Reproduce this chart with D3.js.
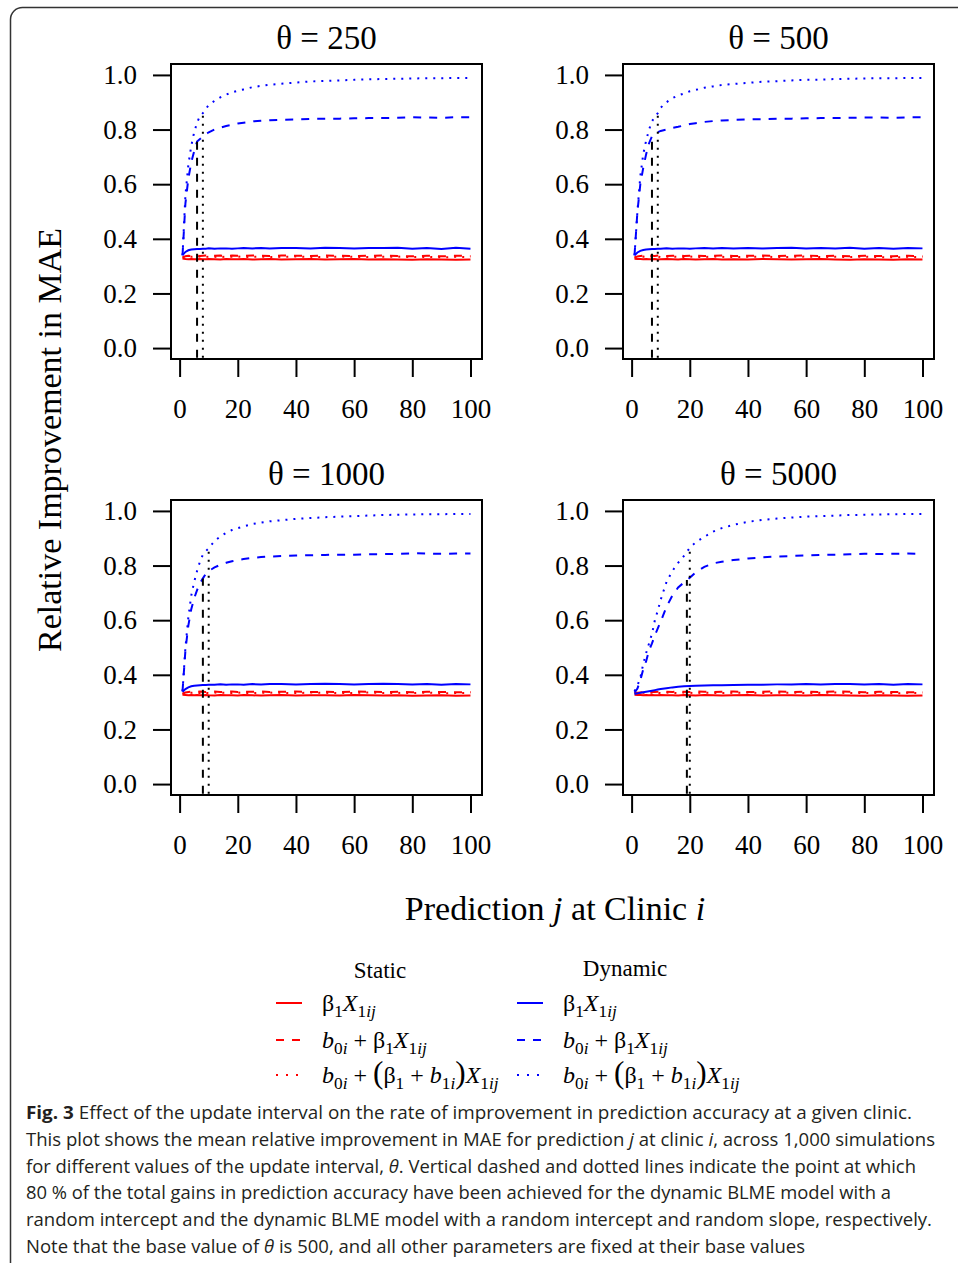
<!DOCTYPE html>
<html>
<head>
<meta charset="utf-8">
<script src="https://cdn.jsdelivr.net/npm/d3@7"></script>
<style>
  body { margin: 0; background: #fff; }
  svg { display: block; }
</style>
</head>
<body>
<svg id="chart" width="958" height="1263"></svg>
<script>
(function () {
  const jValues = [1, 2, 3, 4, 5, 6, 7, 8, 9, 10, 12, 14, 16, 18, 20, 22, 25, 28, 31, 35,
    40, 45, 50, 55, 60, 65, 70, 75, 80, 85, 90, 95, 100];

  const thetas = ['250', '500', '1000', '5000'];
  const xTicks = [0, 20, 40, 60, 80, 100];
  const yTicks = [0, 0.2, 0.4, 0.6, 0.8, 1.0];

  // one row per panel (theta = 250, 500, 1000, 5000)
  const staticFixed = [
    [0.328, 0.326, 0.325, 0.326, 0.325, 0.325, 0.326, 0.325, 0.325, 0.326, 0.325, 0.324, 0.326, 0.325, 0.325, 0.326, 0.324, 0.325, 0.326, 0.324, 0.325, 0.326, 0.324, 0.325, 0.326, 0.324, 0.325, 0.324, 0.323, 0.325, 0.324, 0.323, 0.324],
    [0.327, 0.326, 0.326, 0.325, 0.326, 0.325, 0.325, 0.326, 0.324, 0.325, 0.326, 0.325, 0.324, 0.326, 0.325, 0.324, 0.325, 0.326, 0.324, 0.325, 0.324, 0.326, 0.325, 0.324, 0.325, 0.326, 0.324, 0.323, 0.325, 0.324, 0.323, 0.325, 0.324],
    [0.327, 0.326, 0.325, 0.326, 0.325, 0.326, 0.325, 0.325, 0.326, 0.325, 0.324, 0.326, 0.325, 0.325, 0.324, 0.326, 0.325, 0.324, 0.325, 0.326, 0.324, 0.325, 0.325, 0.324, 0.326, 0.325, 0.324, 0.325, 0.323, 0.324, 0.325, 0.323, 0.324],
    [0.327, 0.326, 0.326, 0.325, 0.326, 0.325, 0.326, 0.325, 0.325, 0.326, 0.325, 0.325, 0.324, 0.326, 0.325, 0.324, 0.326, 0.325, 0.324, 0.325, 0.326, 0.324, 0.325, 0.325, 0.324, 0.326, 0.325, 0.324, 0.323, 0.325, 0.324, 0.323, 0.324]
  ];
  const staticInt = [
    [0.332, 0.336, 0.338, 0.337, 0.338, 0.339, 0.337, 0.338, 0.339, 0.337, 0.338, 0.339, 0.337, 0.339, 0.338, 0.337, 0.339, 0.338, 0.337, 0.339, 0.338, 0.337, 0.339, 0.338, 0.337, 0.338, 0.339, 0.337, 0.336, 0.338, 0.336, 0.338, 0.337],
    [0.332, 0.335, 0.337, 0.338, 0.337, 0.339, 0.338, 0.337, 0.339, 0.338, 0.337, 0.338, 0.339, 0.337, 0.338, 0.339, 0.337, 0.338, 0.339, 0.337, 0.338, 0.339, 0.337, 0.338, 0.339, 0.337, 0.338, 0.336, 0.338, 0.337, 0.336, 0.338, 0.336],
    [0.331, 0.335, 0.337, 0.338, 0.338, 0.337, 0.339, 0.338, 0.337, 0.338, 0.339, 0.337, 0.338, 0.339, 0.337, 0.338, 0.338, 0.339, 0.337, 0.338, 0.339, 0.337, 0.338, 0.337, 0.339, 0.338, 0.337, 0.338, 0.336, 0.338, 0.337, 0.336, 0.337],
    [0.333, 0.334, 0.335, 0.336, 0.337, 0.337, 0.338, 0.337, 0.338, 0.339, 0.338, 0.337, 0.339, 0.338, 0.337, 0.339, 0.338, 0.337, 0.338, 0.339, 0.337, 0.338, 0.339, 0.337, 0.338, 0.337, 0.339, 0.338, 0.336, 0.338, 0.337, 0.336, 0.337]
  ];
  const staticSlope = [
    [0.332, 0.333, 0.334, 0.334, 0.335, 0.334, 0.335, 0.334, 0.333, 0.335, 0.334, 0.333, 0.335, 0.334, 0.335, 0.333, 0.334, 0.335, 0.333, 0.334, 0.335, 0.334, 0.333, 0.335, 0.334, 0.333, 0.334, 0.335, 0.333, 0.334, 0.332, 0.334, 0.333],
    [0.332, 0.333, 0.334, 0.335, 0.334, 0.333, 0.335, 0.334, 0.335, 0.333, 0.334, 0.335, 0.334, 0.333, 0.335, 0.334, 0.333, 0.335, 0.334, 0.333, 0.334, 0.335, 0.333, 0.334, 0.335, 0.333, 0.334, 0.333, 0.335, 0.333, 0.332, 0.334, 0.333],
    [0.331, 0.333, 0.334, 0.334, 0.335, 0.334, 0.333, 0.335, 0.334, 0.333, 0.335, 0.334, 0.334, 0.333, 0.335, 0.334, 0.333, 0.334, 0.335, 0.334, 0.333, 0.335, 0.334, 0.333, 0.334, 0.335, 0.333, 0.334, 0.333, 0.335, 0.332, 0.333, 0.334],
    [0.333, 0.333, 0.334, 0.334, 0.334, 0.335, 0.334, 0.335, 0.334, 0.333, 0.335, 0.334, 0.333, 0.335, 0.334, 0.333, 0.335, 0.334, 0.333, 0.334, 0.335, 0.333, 0.334, 0.335, 0.333, 0.334, 0.335, 0.333, 0.334, 0.333, 0.332, 0.334, 0.333]
  ];
  const dynFixed = [
    [0.340, 0.352, 0.358, 0.361, 0.362, 0.363, 0.363, 0.364, 0.364, 0.365, 0.364, 0.365, 0.365, 0.364, 0.365, 0.366, 0.365, 0.366, 0.365, 0.366, 0.366, 0.365, 0.367, 0.366, 0.365, 0.366, 0.366, 0.367, 0.364, 0.366, 0.363, 0.367, 0.364],
    [0.340, 0.350, 0.356, 0.359, 0.361, 0.362, 0.363, 0.363, 0.364, 0.364, 0.365, 0.364, 0.365, 0.365, 0.364, 0.365, 0.366, 0.365, 0.366, 0.365, 0.366, 0.365, 0.366, 0.367, 0.365, 0.366, 0.365, 0.367, 0.364, 0.366, 0.364, 0.366, 0.365],
    [0.338, 0.348, 0.354, 0.358, 0.360, 0.361, 0.362, 0.363, 0.363, 0.364, 0.364, 0.365, 0.364, 0.365, 0.365, 0.364, 0.366, 0.365, 0.366, 0.366, 0.365, 0.366, 0.367, 0.366, 0.365, 0.366, 0.367, 0.366, 0.365, 0.366, 0.364, 0.366, 0.365],
    [0.330, 0.332, 0.334, 0.336, 0.338, 0.340, 0.342, 0.344, 0.346, 0.348, 0.351, 0.354, 0.356, 0.358, 0.359, 0.360, 0.361, 0.362, 0.362, 0.363, 0.364, 0.364, 0.365, 0.365, 0.366, 0.365, 0.366, 0.366, 0.365, 0.366, 0.364, 0.366, 0.365]
  ];
  const dynInt = [
    [0.340, 0.530, 0.620, 0.680, 0.720, 0.756, 0.765, 0.775, 0.783, 0.790, 0.800, 0.807, 0.813, 0.817, 0.822, 0.825, 0.830, 0.832, 0.834, 0.836, 0.837, 0.839, 0.840, 0.840, 0.841, 0.842, 0.842, 0.843, 0.845, 0.844, 0.843, 0.845, 0.845],
    [0.340, 0.500, 0.600, 0.660, 0.710, 0.750, 0.775, 0.785, 0.790, 0.795, 0.800, 0.806, 0.810, 0.815, 0.820, 0.823, 0.828, 0.831, 0.833, 0.835, 0.837, 0.838, 0.840, 0.840, 0.841, 0.842, 0.842, 0.843, 0.844, 0.844, 0.843, 0.845, 0.845],
    [0.340, 0.490, 0.580, 0.640, 0.680, 0.710, 0.735, 0.753, 0.770, 0.780, 0.793, 0.803, 0.810, 0.816, 0.820, 0.824, 0.828, 0.831, 0.833, 0.835, 0.837, 0.838, 0.839, 0.840, 0.840, 0.841, 0.842, 0.843, 0.845, 0.844, 0.843, 0.844, 0.844],
    [0.335, 0.350, 0.380, 0.420, 0.450, 0.490, 0.515, 0.545, 0.570, 0.595, 0.649, 0.690, 0.720, 0.738, 0.755, 0.775, 0.795, 0.808, 0.814, 0.820, 0.826, 0.830, 0.833, 0.835, 0.837, 0.839, 0.840, 0.841, 0.843, 0.842, 0.843, 0.844, 0.843]
  ];
  const dynSlope = [
    [0.340, 0.560, 0.670, 0.740, 0.790, 0.825, 0.850, 0.860, 0.875, 0.890, 0.905, 0.918, 0.928, 0.936, 0.942, 0.947, 0.955, 0.960, 0.964, 0.968, 0.972, 0.976, 0.978, 0.980, 0.982, 0.984, 0.985, 0.986, 0.987, 0.988, 0.988, 0.989, 0.989],
    [0.340, 0.500, 0.630, 0.710, 0.760, 0.800, 0.830, 0.848, 0.860, 0.880, 0.900, 0.915, 0.925, 0.932, 0.940, 0.945, 0.953, 0.958, 0.963, 0.967, 0.971, 0.975, 0.977, 0.980, 0.982, 0.983, 0.985, 0.986, 0.987, 0.988, 0.988, 0.989, 0.989],
    [0.340, 0.500, 0.610, 0.690, 0.740, 0.780, 0.815, 0.840, 0.853, 0.863, 0.890, 0.907, 0.920, 0.930, 0.937, 0.943, 0.952, 0.957, 0.962, 0.966, 0.971, 0.974, 0.977, 0.979, 0.981, 0.983, 0.985, 0.986, 0.987, 0.988, 0.988, 0.989, 0.989],
    [0.340, 0.360, 0.390, 0.440, 0.480, 0.515, 0.550, 0.600, 0.635, 0.675, 0.740, 0.780, 0.810, 0.835, 0.865, 0.885, 0.905, 0.924, 0.937, 0.949, 0.960, 0.967, 0.972, 0.976, 0.979, 0.981, 0.983, 0.985, 0.986, 0.987, 0.988, 0.989, 0.989]
  ];

  // 80 % gain markers: j position and height for each panel
  const markIntJ = [6, 7, 8, 19];
  const markIntTop = [0.756, 0.775, 0.753, 0.747];
  const markSlopeJ = [8, 9, 10, 20];
  const markSlopeTop = [0.86, 0.86, 0.863, 0.869];

  const svg = d3.select('#chart');
  const serif = "'Liberation Serif', 'DejaVu Serif', serif";

  svg.append('rect')
    .attr('width', 958).attr('height', 1263).attr('fill', '#fff');

  svg.append('rect')
    .attr('x', 10.5).attr('y', 7.5)
    .attr('width', 1000).attr('height', 1300)
    .attr('rx', 12)
    .attr('fill', 'none')
    .attr('stroke', '#333')
    .attr('stroke-width', 1.5);

  const DASH = '8,8';
  const DOT = '2,6';

  const seriesDefs = [
    { values: staticFixed, color: '#ff0000', dash: null },
    { values: staticInt, color: '#ff0000', dash: DASH },
    { values: staticSlope, color: '#ff0000', dash: DOT },
    { values: dynFixed, color: '#0000ff', dash: null },
    { values: dynInt, color: '#0000ff', dash: DASH },
    { values: dynSlope, color: '#0000ff', dash: DOT },
  ];

  const panels = [
    { left: 171, top: 64 },
    { left: 623, top: 64 },
    { left: 171, top: 500 },
    { left: 623, top: 500 },
  ];
  const boxW = 311;
  const boxH = 295;

  panels.forEach((p, i) => {
    const x = d3.scaleLinear().domain([1 - 3.96, 100 + 3.96]).range([p.left, p.left + boxW]);
    const y = d3.scaleLinear().domain([-0.04, 1.04]).range([p.top + boxH, p.top]);

    const g = svg.append('g');

    // curves
    const line = d3.line()
      .x((d) => x(d[0]))
      .y((d) => y(d[1]));

    seriesDefs.forEach((s) => {
      const pts = jValues.map((j, k) => [j, s.values[i][k]]);
      g.append('path')
        .datum(pts)
        .attr('fill', 'none')
        .attr('stroke', s.color)
        .attr('stroke-width', 2)
        .attr('stroke-dasharray', s.dash)
        .attr('d', line);
    });

    // 80 % markers
    g.append('line')
      .attr('x1', x(markIntJ[i])).attr('x2', x(markIntJ[i]))
      .attr('y1', y(-0.035)).attr('y2', y(markIntTop[i]))
      .attr('stroke', '#000').attr('stroke-width', 2)
      .attr('stroke-dasharray', DASH);
    g.append('line')
      .attr('x1', x(markSlopeJ[i])).attr('x2', x(markSlopeJ[i]))
      .attr('y1', y(-0.035)).attr('y2', y(markSlopeTop[i]))
      .attr('stroke', '#000').attr('stroke-width', 2)
      .attr('stroke-dasharray', DOT);

    // box
    g.append('rect')
      .attr('x', p.left).attr('y', p.top)
      .attr('width', boxW).attr('height', boxH)
      .attr('fill', 'none')
      .attr('stroke', '#000')
      .attr('stroke-width', 2);

    const yAxis = g.append('g')
      .attr('transform', `translate(${p.left},0)`)
      .call(d3.axisLeft(y).tickValues(yTicks).tickSize(18).tickPadding(16)
        .tickFormat(d3.format('.1f')));
    const xAxis = g.append('g')
      .attr('transform', `translate(0,${p.top + boxH})`)
      .call(d3.axisBottom(x).tickValues(xTicks).tickSize(18).tickPadding(22));

    [yAxis, xAxis].forEach((ax) => {
      ax.select('.domain').remove();
      ax.selectAll('line').attr('stroke', '#000').attr('stroke-width', 2);
      ax.selectAll('text')
        .attr('fill', '#000')
        .style('font-family', serif)
        .style('font-size', '27px');
    });

    const title = g.append('text')
      .attr('x', p.left + boxW / 2)
      .attr('y', p.top - 15)
      .attr('text-anchor', 'middle')
      .style('font-family', serif)
      .style('font-size', '33px');
    title.append('tspan').text('θ');
    title.append('tspan').text(` = ${thetas[i]}`);
  });

  // axis titles
  svg.append('text')
    .attr('transform', 'translate(61,440) rotate(-90)')
    .attr('text-anchor', 'middle')
    .style('font-family', serif)
    .style('font-size', '34px')
    .text('Relative Improvement in MAE');

  const xTitle = svg.append('text')
    .attr('x', 555).attr('y', 920)
    .attr('text-anchor', 'middle')
    .style('font-family', serif)
    .style('font-size', '34px');
  xTitle.append('tspan').text('Prediction ');
  xTitle.append('tspan').style('font-style', 'italic').text('j');
  xTitle.append('tspan').text(' at Clinic ');
  xTitle.append('tspan').style('font-style', 'italic').text('i');

  // legend
  const legendFont = 24;
  const writeMath = (x0, yBase, parts) => {
    const t = svg.append('text')
      .attr('x', x0).attr('y', yBase)
      .style('font-family', serif)
      .style('font-size', `${legendFont}px`);
    let shift = 0;
    parts.forEach((part) => {
      const span = t.append('tspan').text(part.t);
      const target = part.sub ? 6 : 0;
      if (target !== shift) {
        span.attr('dy', target - shift);
        shift = target;
      }
      if (part.sub) span.style('font-size', `${legendFont * 0.72}px`);
      if (part.big) span.style('font-size', `${legendFont * 1.3}px`);
      if (part.it) span.style('font-style', 'italic');
    });
  };

  const fixedLabel = [
    { t: 'β' }, { t: '1', sub: true }, { t: 'X', it: true }, { t: '1', sub: true }, { t: 'ij', sub: true, it: true },
  ];
  const intLabel = [
    { t: 'b', it: true }, { t: '0', sub: true }, { t: 'i', sub: true, it: true }, { t: ' + ' },
    { t: 'β' }, { t: '1', sub: true }, { t: 'X', it: true }, { t: '1', sub: true }, { t: 'ij', sub: true, it: true },
  ];
  const slopeLabel = [
    { t: 'b', it: true }, { t: '0', sub: true }, { t: 'i', sub: true, it: true }, { t: ' + ' },
    { t: '(', big: true }, { t: 'β' }, { t: '1', sub: true }, { t: ' + ' },
    { t: 'b', it: true }, { t: '1', sub: true }, { t: 'i', sub: true, it: true }, { t: ')', big: true },
    { t: 'X', it: true }, { t: '1', sub: true }, { t: 'ij', sub: true, it: true },
  ];

  const legendCols = [
    { header: 'Static', hx: 380, hy: 978, lx: 276, tx: 322, color: '#ff0000' },
    { header: 'Dynamic', hx: 625, hy: 976, lx: 517, tx: 563, color: '#0000ff' },
  ];
  const legendRows = [
    { y: 1003, dash: null, label: fixedLabel },
    { y: 1040, dash: DASH, label: intLabel },
    { y: 1075, dash: '2,8', label: slopeLabel },
  ];

  legendCols.forEach((c) => {
    svg.append('text')
      .attr('x', c.hx).attr('y', c.hy)
      .attr('text-anchor', 'middle')
      .style('font-family', serif)
      .style('font-size', '23px')
      .text(c.header);
    legendRows.forEach((r) => {
      svg.append('line')
        .attr('x1', c.lx).attr('x2', c.lx + 26)
        .attr('y1', r.y).attr('y2', r.y)
        .attr('stroke', c.color)
        .attr('stroke-width', 2)
        .attr('stroke-dasharray', r.dash);
      writeMath(c.tx, r.y + 8, r.label);
    });
  });

  // caption
  const captionLines = [
    { end: 912, parts: [{ t: 'Fig. 3', b: true }, { t: ' Effect of the update interval on the rate of improvement in prediction accuracy at a given clinic.' }] },
    { end: 935, parts: [{ t: 'This plot shows the mean relative improvement in MAE for prediction ' }, { t: 'j', it: true }, { t: ' at clinic ' }, { t: 'i', it: true }, { t: ', across 1,000 simulations' }] },
    { end: 916, parts: [{ t: 'for different values of the update interval, ' }, { t: 'θ', it: true }, { t: '. Vertical dashed and dotted lines indicate the point at which' }] },
    { end: 891, parts: [{ t: '80 % of the total gains in prediction accuracy have been achieved for the dynamic BLME model with a' }] },
    { end: 932, parts: [{ t: 'random intercept and the dynamic BLME model with a random intercept and random slope, respectively.' }] },
    { end: 805, parts: [{ t: 'Note that the base value of ' }, { t: 'θ', it: true }, { t: ' is 500, and all other parameters are fixed at their base values' }] },
  ];

  captionLines.forEach((ln, k) => {
    const t = svg.append('text')
      .attr('x', 26)
      .attr('y', 1119 + k * 26.8)
      .attr('textLength', ln.end - 26)
      .attr('lengthAdjust', 'spacingAndGlyphs')
      .attr('fill', '#231f20')
      .style('font-family', "'Open Sans', 'Noto Sans', sans-serif")
      .style('font-size', '18.5px');
    ln.parts.forEach((part) => {
      const s = t.append('tspan').text(part.t);
      if (part.b) s.style('font-weight', 'bold');
      if (part.it) s.style('font-style', 'italic');
    });
  });
})();
</script>
</body>
</html>
